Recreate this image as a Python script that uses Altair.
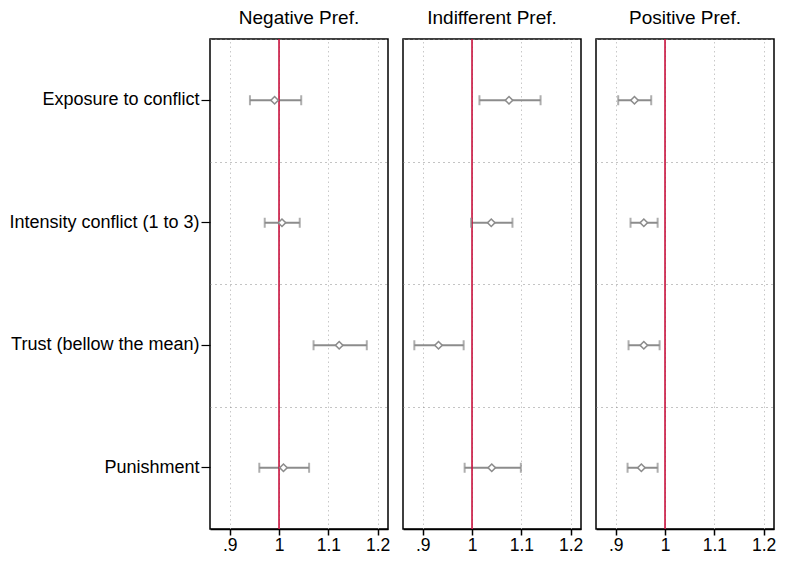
import altair as alt
import pandas as pd

panels = ["Negative Pref.", "Indifferent Pref.", "Positive Pref."]
categories = ["Exposure to conflict", "Intensity conflict (1 to 3)",
              "Trust (bellow the mean)", "Punishment"]

neg_est = [0.991, 1.006, 1.122, 1.009]
neg_lo = [0.941, 0.971, 1.070, 0.960]
neg_hi = [1.045, 1.042, 1.178, 1.061]

ind_est = [1.075, 1.039, 0.932, 1.040]
ind_lo = [1.015, 0.998, 0.883, 0.985]
ind_hi = [1.139, 1.082, 0.983, 1.099]

pos_est = [0.938, 0.957, 0.957, 0.952]
pos_lo = [0.905, 0.930, 0.926, 0.924]
pos_hi = [0.972, 0.985, 0.989, 0.985]

x_ticks = [0.9, 1.0, 1.1, 1.2]
x_tick_labels = [".9", "1", "1.1", "1.2"]
ref_value = 1.0

FONT = "Liberation Sans"
GRAY = "#8c8c8c"
RED = "#c8103c"

label_expr = " : ".join(
    f"abs(datum.value - {v}) < 1e-6 ? '{l}'" for v, l in zip(x_ticks, x_tick_labels)
) + " : ''"

xscale = alt.Scale(domain=[0.86, 1.221], nice=False, zero=False)
yscale = alt.Scale(domain=categories, paddingInner=0, paddingOuter=0)

x_axis = alt.Axis(values=x_ticks, labelExpr=label_expr, title=None, grid=True,
                  gridColor="#c8c8c8", gridDash=[1.5, 3], gridWidth=1,
                  domainColor="black", domainWidth=1.5, tickColor="black",
                  tickWidth=1.5, tickSize=6, labelFontSize=17.5, labelColor="black",
                  labelPadding=1, labelFont=FONT)

grid_axis = alt.Axis(orient="left", grid=True, tickBand="extent", labels=False,
                     ticks=False, domain=False, title=None, gridColor="#888888",
                     gridDash=[1, 4], gridWidth=1, minExtent=0, maxExtent=0)

label_axis = alt.Axis(orient="left", grid=False, domain=False, title=None,
                      labelFontSize=18, labelColor="black", labelFont=FONT,
                      tickColor="black", tickSize=9, tickWidth=1.2,
                      labelPadding=2, labelLimit=400, minExtent=0)


def panel(name, est, lo, hi, first):
    df = pd.DataFrame({"cat": categories, "est": est, "lo": lo, "hi": hi})
    ref = pd.DataFrame({"ref": [ref_value]})
    y_other = None if first else grid_axis

    gridlayer = alt.Chart(df).mark_rule(color=GRAY, strokeWidth=2).encode(
        x=alt.X("lo:Q", scale=xscale, axis=x_axis),
        x2="hi:Q",
        y=alt.Y("cat:N", scale=yscale, sort=categories, axis=grid_axis),
    )
    redline = alt.Chart(ref).mark_rule(color=RED, strokeWidth=1.6).encode(
        x=alt.X("ref:Q", scale=xscale, axis=x_axis),
    )
    cap_lo = alt.Chart(df).mark_tick(color=GRAY, thickness=2, size=10).encode(
        x=alt.X("lo:Q", scale=xscale, axis=x_axis),
        y=alt.Y("cat:N", scale=yscale, sort=categories,
                axis=label_axis if first else grid_axis),
    )
    cap_hi = alt.Chart(df).mark_tick(color=GRAY, thickness=2, size=10).encode(
        x=alt.X("hi:Q", scale=xscale, axis=x_axis),
        y=alt.Y("cat:N", scale=yscale, sort=categories, axis=y_other),
    )
    pts = alt.Chart(df).mark_point(shape="diamond", filled=True, fill="white",
                                   stroke=GRAY, strokeWidth=1.6, size=55,
                                   opacity=1).encode(
        x=alt.X("est:Q", scale=xscale, axis=x_axis),
        y=alt.Y("cat:N", scale=yscale, sort=categories, axis=y_other),
    )
    layered = alt.layer(gridlayer, redline, cap_lo, cap_hi, pts)
    if first:
        layered = layered.resolve_axis(y="independent")
    return layered.properties(
        width=178, height=490,
        title=alt.TitleParams(name, fontSize=19, fontWeight="normal", font=FONT,
                              color="black", offset=10, anchor="middle"),
    )


chart = alt.hconcat(
    panel(panels[0], neg_est, neg_lo, neg_hi, True),
    panel(panels[1], ind_est, ind_lo, ind_hi, False),
    panel(panels[2], pos_est, pos_lo, pos_hi, False),
    spacing=15,
    bounds="flush",
).properties(
    padding={"left": 0, "top": 0, "right": 0, "bottom": 0},
    background="white",
).configure_view(
    stroke="black", strokeWidth=1.5,
)

chart.save("out.html", embed_options={"renderer": "svg", "actions": False})
